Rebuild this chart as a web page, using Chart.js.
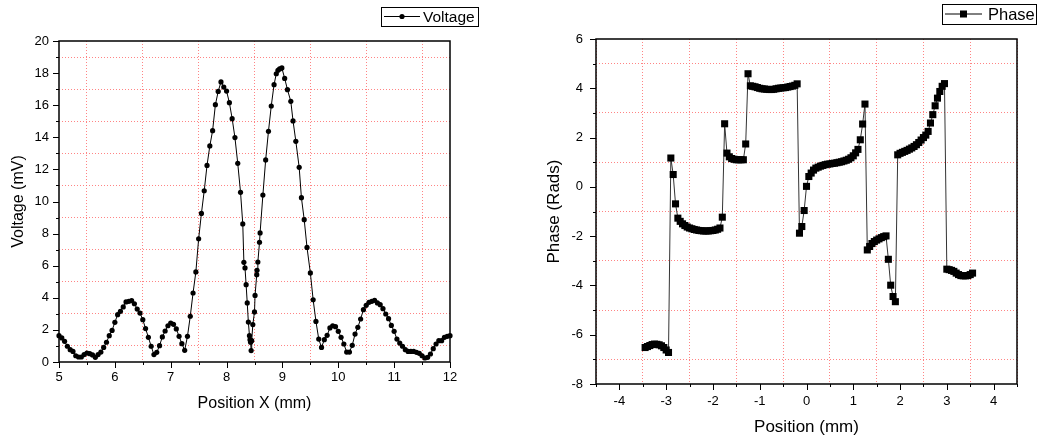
<!DOCTYPE html>
<html>
<head>
<meta charset="utf-8">
<title>Voltage and phase scans</title>
<script src="https://cdn.jsdelivr.net/npm/chart.js@4.4.0/dist/chart.umd.min.js"></script>
<style>
  html, body { margin: 0; padding: 0; background: #fff; }
  #wrap { position: relative; width: 1038px; height: 438px; overflow: hidden; }
  .panel { position: absolute; top: 0; width: 519px; height: 438px; }
  #left { left: 0; }
  #right { left: 519px; }
</style>
</head>
<body>
<div id="wrap">
  <div class="panel" id="left"><canvas id="voltageChart" width="519" height="438"></canvas></div>
  <div class="panel" id="right"><canvas id="phaseChart" width="519" height="438"></canvas></div>
</div>
<script>
// voltage scan, position in mm, voltage in mV
var voltagePos = [
  5.00, 5.05, 5.10, 5.15, 5.20, 5.25, 5.30, 5.35, 5.40, 5.45,
  5.50, 5.55, 5.60, 5.65, 5.70, 5.75, 5.80, 5.85, 5.90, 5.95,
  6.00, 6.05, 6.10, 6.15, 6.20, 6.25, 6.30, 6.35, 6.40, 6.45,
  6.50, 6.55, 6.60, 6.65, 6.70, 6.75, 6.80, 6.85, 6.90, 6.95,
  7.00, 7.05, 7.10, 7.15, 7.20, 7.25, 7.30, 7.35, 7.40, 7.45,
  7.50, 7.55, 7.60, 7.65, 7.70, 7.75, 7.80, 7.85, 7.90, 7.95,
  8.00, 8.05, 8.10, 8.15, 8.20, 8.25,
  8.29, 8.31, 8.33, 8.35, 8.37, 8.39, 8.41, 8.42, 8.43, 8.44,
  8.45, 8.47, 8.50, 8.51, 8.54, 8.545, 8.56, 8.59, 8.60,
  8.65, 8.70, 8.75, 8.80, 8.85, 8.89, 8.92, 8.95, 8.99, 9.04,
  9.09, 9.15, 9.19, 9.24, 9.30, 9.34, 9.39, 9.44,
  9.50, 9.55, 9.60, 9.65, 9.70, 9.75, 9.80, 9.85, 9.90, 9.95,
  10.00, 10.05, 10.10, 10.15, 10.20, 10.25, 10.30, 10.35, 10.40, 10.45,
  10.50, 10.55, 10.60, 10.65, 10.70, 10.75, 10.80, 10.85, 10.90, 10.95,
  11.00, 11.05, 11.10, 11.15, 11.20, 11.25, 11.30, 11.35, 11.40, 11.45,
  11.50, 11.55, 11.60, 11.65, 11.70, 11.75, 11.80, 11.85, 11.90, 11.95,
  12.00
];
var voltageMv = [
  1.64, 1.50, 1.29, 0.98, 0.77, 0.66, 0.39, 0.31, 0.31, 0.46,
  0.56, 0.52, 0.44, 0.29, 0.46, 0.62, 0.91, 1.23, 1.64, 1.97,
  2.47, 2.95, 3.16, 3.43, 3.74, 3.78, 3.82, 3.63, 3.30, 3.05,
  2.64, 2.08, 1.54, 0.98, 0.46, 0.60, 1.02, 1.56, 1.93, 2.26,
  2.43, 2.35, 2.06, 1.60, 1.14, 0.73, 1.60, 2.85, 4.30, 5.61,
  7.68, 9.26, 10.67, 12.25, 13.46, 14.41, 16.03, 16.86, 17.45, 17.13,
  16.88, 16.16, 15.16, 13.98, 12.38, 10.57,
  8.60, 6.21, 5.86, 4.82, 3.68, 2.49, 1.64, 1.39, 1.23, 0.71,
  1.33, 2.33, 3.12, 4.15, 5.44, 5.71, 6.23, 7.46, 8.04,
  10.40, 12.59, 14.37, 15.95, 17.28, 17.96, 18.17, 18.26, 18.32, 17.67,
  16.97, 16.24, 15.02, 13.75, 12.13, 10.24, 8.87, 7.14,
  5.55, 3.88, 2.53, 1.43, 0.91, 1.39, 1.66, 2.12, 2.26, 2.20,
  1.91, 1.54, 1.12, 0.62, 0.62, 1.04, 1.74, 2.16, 2.68, 3.26,
  3.53, 3.72, 3.78, 3.84, 3.68, 3.57, 3.32, 2.99, 2.70, 2.28,
  1.91, 1.43, 1.18, 0.98, 0.77, 0.66, 0.66, 0.66, 0.60, 0.54,
  0.39, 0.25, 0.29, 0.50, 0.83, 1.12, 1.33, 1.33, 1.54, 1.60,
  1.64
];

// phase scan, position in mm, phase in rad
var phasePos = [
  -3.45, -3.40, -3.35, -3.30, -3.25, -3.20, -3.15, -3.10, -3.05, -3.00,
  -2.95, -2.90, -2.85, -2.80, -2.75, -2.70, -2.65, -2.60, -2.55, -2.50,
  -2.45, -2.40, -2.35, -2.30, -2.25, -2.20, -2.15, -2.10, -2.05, -2.00,
  -1.95, -1.90, -1.85, -1.80, -1.75, -1.70, -1.65, -1.60, -1.55, -1.50,
  -1.45, -1.40, -1.35, -1.30, -1.25, -1.20, -1.15, -1.10, -1.05, -1.00,
  -0.95, -0.90, -0.85, -0.80, -0.75, -0.70, -0.65, -0.60, -0.55, -0.50,
  -0.45, -0.40, -0.35, -0.30, -0.25, -0.20, -0.15, -0.10, -0.05, 0.00,
  0.05, 0.10, 0.15, 0.20, 0.25, 0.30, 0.35, 0.40, 0.45, 0.50,
  0.55, 0.60, 0.65, 0.70, 0.75, 0.80, 0.85, 0.90, 0.95, 1.00,
  1.05, 1.10, 1.15, 1.20, 1.25, 1.30, 1.35, 1.40, 1.45, 1.50,
  1.55, 1.60, 1.65, 1.70, 1.75, 1.80, 1.85, 1.90, 1.95, 2.00,
  2.05, 2.10, 2.15, 2.20, 2.25, 2.30, 2.35, 2.40, 2.45, 2.50,
  2.55, 2.60, 2.65, 2.70, 2.75, 2.80, 2.85, 2.90, 2.95, 3.00,
  3.05, 3.10, 3.15, 3.20, 3.25, 3.30, 3.35, 3.40, 3.45, 3.50,
  3.55
];
var phaseRad = [
  -6.52, -6.48, -6.44, -6.40, -6.38, -6.39, -6.41, -6.45, -6.52, -6.62,
  -6.72, 1.17, 0.50, -0.69, -1.27, -1.40, -1.50, -1.57, -1.63, -1.67,
  -1.70, -1.73, -1.75, -1.77, -1.78, -1.79, -1.79, -1.79, -1.78, -1.77,
  -1.75, -1.72, -1.67, -1.23, 2.56, 1.37, 1.22, 1.15, 1.12, 1.10,
  1.10, 1.10, 1.10, 1.74, 4.59, 4.10, 4.08, 4.06, 4.03, 4.00,
  3.98, 3.97, 3.96, 3.95, 3.95, 3.96, 3.98, 4.00, 4.01, 4.02,
  4.03, 4.05, 4.07, 4.09, 4.12, 4.18, -1.88, -1.61, -0.96, 0.02,
  0.42, 0.56, 0.68, 0.76, 0.80, 0.84, 0.87, 0.90, 0.92, 0.93,
  0.95, 0.96, 0.98, 1.00, 1.02, 1.05, 1.08, 1.12, 1.18, 1.26,
  1.38, 1.52, 1.91, 2.55, 3.36, -2.56, -2.42, -2.30, -2.22, -2.16,
  -2.11, -2.06, -2.02, -1.99, -2.94, -3.99, -4.45, -4.66, 1.30, 1.36,
  1.40, 1.44, 1.48, 1.53, 1.58, 1.64, 1.71, 1.80, 1.90, 2.00,
  2.10, 2.25, 2.59, 2.93, 3.29, 3.60, 3.87, 4.08, 4.19, -3.34,
  -3.36, -3.39, -3.43, -3.50, -3.56, -3.60, -3.61, -3.61, -3.60, -3.56,
  -3.50
];

var FONT = '"Liberation Sans", Arial, sans-serif';
Chart.defaults.font.family = FONT;
Chart.defaults.color = '#000';

function toPoints(xs, ys) {
  return xs.map(function (x, i) { return { x: x, y: ys[i] }; });
}

function isWhole(v) { return Math.abs(v - Math.round(v)) < 1e-6; }
function isEven(v) { return isWhole(v) && Math.round(v) % 2 === 0; }

// frame around the plot plus outward tick marks (long on labelled values)
var frameTicks = {
  id: 'frameTicks',
  afterDraw: function (chart) {
    var ctx = chart.ctx, a = chart.chartArea;
    var xs = chart.scales.x, ys = chart.scales.y;
    ctx.save();
    ctx.strokeStyle = '#000';
    ctx.lineWidth = 1;
    ctx.beginPath();
    xs.ticks.forEach(function (t) {
      var px = Math.round(xs.getPixelForValue(t.value)) + 0.5;
      var len = t.label !== '' ? 6 : 3;
      ctx.moveTo(px, a.bottom);
      ctx.lineTo(px, a.bottom + len);
    });
    ys.ticks.forEach(function (t) {
      var py = Math.round(ys.getPixelForValue(t.value)) + 0.5;
      var len = t.label !== '' ? 6 : 3;
      ctx.moveTo(a.left - len, py);
      ctx.lineTo(a.left, py);
    });
    ctx.stroke();
    ctx.lineWidth = 1.5;
    ctx.strokeRect(a.left, a.top, a.right - a.left, a.bottom - a.top);
    ctx.restore();
  }
};

// boxed legend: sample line with marker, then the dataset label
var boxLegend = {
  id: 'boxLegend',
  afterDraw: function (chart, args, o) {
    var ctx = chart.ctx;
    var ds = chart.data.datasets[0];
    var cy = o.y + o.h / 2;
    ctx.save();
    ctx.strokeStyle = '#000';
    ctx.lineWidth = 1;
    ctx.strokeRect(o.x + 0.5, o.y + 0.5, o.w, o.h);
    ctx.beginPath();
    ctx.moveTo(o.x + 3, cy);
    ctx.lineTo(o.x + o.lineLen, cy);
    ctx.stroke();
    var mx = o.x + 3 + (o.lineLen - 3) / 2;
    ctx.fillStyle = '#000';
    if (ds.pointStyle === 'rect') {
      ctx.fillRect(mx - 3.5, cy - 3.5, 7, 7);
    } else {
      ctx.beginPath();
      ctx.arc(mx, cy, 2.6, 0, Math.PI * 2);
      ctx.fill();
    }
    ctx.font = o.fontSize + 'px ' + FONT;
    ctx.textBaseline = 'middle';
    ctx.textAlign = 'left';
    ctx.fillText(ds.label, o.x + o.textX, cy + 1);
    ctx.restore();
  }
};

function gridColor(minorTest) {
  return function (c) {
    return c.tick && minorTest(c.tick.value) ? 'rgba(255, 110, 110, 0.85)' : 'rgba(0,0,0,0)';
  };
}

function axis(opts) {
  return {
    type: 'linear',
    min: opts.min,
    max: opts.max,
    ticks: {
      stepSize: opts.step,
      autoSkip: false,
      maxRotation: 0,
      padding: opts.pad,
      color: '#000',
      font: { size: 13 },
      callback: function (v) { return opts.major(v) ? String(Math.round(v)) : ''; }
    },
    grid: {
      color: gridColor(function (v) { return !opts.major(v); }),
      lineWidth: 1,
      drawTicks: false
    },
    border: { display: false, dash: [1, 2] },
    title: {
      display: true,
      text: opts.title,
      color: '#000',
      font: { size: opts.titleSize },
      padding: opts.titlePad
    },
    afterFit: opts.fit
  };
}

new Chart(document.getElementById('voltageChart'), {
  type: 'scatter',
  data: {
    datasets: [{
      label: 'Voltage',
      data: toPoints(voltagePos, voltageMv),
      showLine: true,
      borderColor: '#000',
      borderWidth: 1,
      pointRadius: 2.6,
      pointBackgroundColor: '#000',
      pointBorderWidth: 0,
      pointStyle: 'circle',
      clip: false
    }]
  },
  options: {
    responsive: false,
    animation: false,
    devicePixelRatio: 1,
    layout: { padding: { left: 0, top: 41, right: 69, bottom: 0 } },
    plugins: {
      legend: { display: false },
      tooltip: { enabled: false },
      boxLegend: { x: 381, y: 7, w: 97, h: 19, lineLen: 39, textX: 42, fontSize: 15.5 }
    },
    scales: {
      x: axis({ min: 5, max: 12, step: 0.5, pad: 8, major: isWhole, title: 'Position X (mm)',
        titleSize: 16, titlePad: { top: 0, bottom: 25 }, fit: function (s) { s.height = 76; } }),
      y: axis({ min: 0, max: 20, step: 1, pad: 10, major: isEven, title: 'Voltage (mV)',
        titleSize: 16, titlePad: { top: 9, bottom: 0 }, fit: function (s) { s.width = 59; } })
    }
  },
  plugins: [frameTicks, boxLegend]
});

new Chart(document.getElementById('phaseChart'), {
  type: 'scatter',
  data: {
    datasets: [{
      label: 'Phase',
      data: toPoints(phasePos, phaseRad),
      showLine: true,
      borderColor: '#333',
      borderWidth: 1,
      pointRadius: 5,
      pointStyle: 'rect',
      pointBackgroundColor: '#000',
      pointBorderWidth: 0,
      clip: false
    }]
  },
  options: {
    responsive: false,
    animation: false,
    devicePixelRatio: 1,
    layout: { padding: { left: 0, top: 39, right: 21, bottom: 0 } },
    plugins: {
      legend: { display: false },
      tooltip: { enabled: false },
      boxLegend: { x: 423, y: 4, w: 94, h: 20, lineLen: 40, textX: 46, fontSize: 16.5 }
    },
    scales: {
      x: axis({ min: -4.5, max: 4.5, step: 0.5, pad: 10, major: isWhole, title: 'Position (mm)',
        titleSize: 17, titlePad: { top: 0, bottom: 0 }, fit: function (s) { s.height = 54; } }),
      y: axis({ min: -8, max: 6, step: 1, pad: 13, major: isEven, title: 'Phase (Rads)',
        titleSize: 17, titlePad: { top: 25, bottom: 0 }, fit: function (s) { s.width = 77; } })
    }
  },
  plugins: [frameTicks, boxLegend]
});
</script>
</body>
</html>
